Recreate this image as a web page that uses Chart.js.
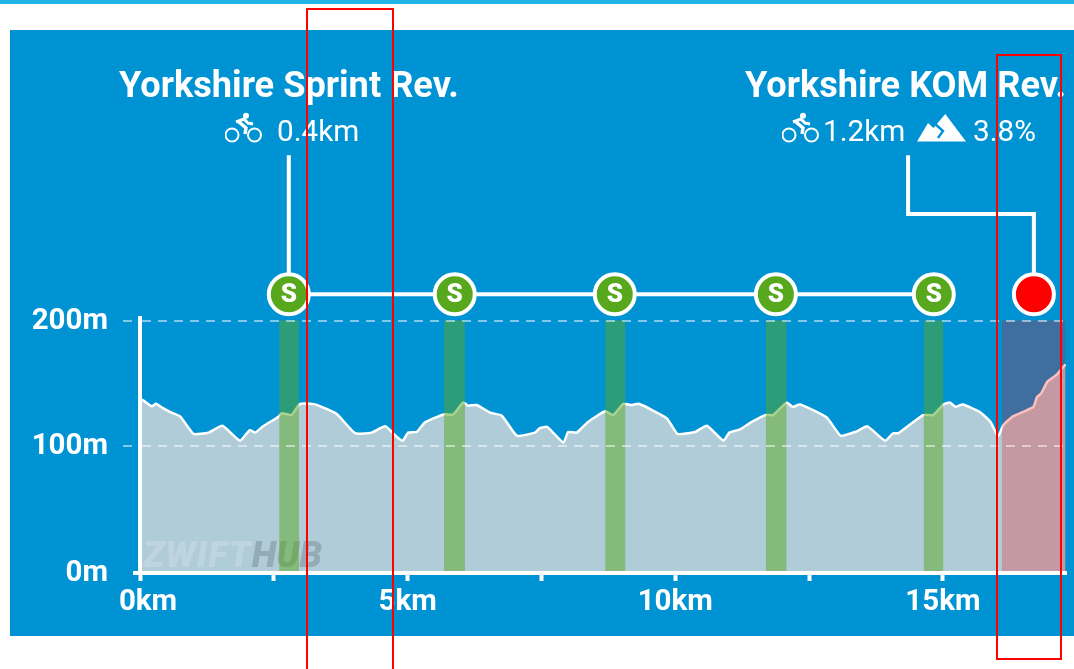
<!DOCTYPE html>
<html>
<head>
<meta charset="utf-8">
<title>Yorkshire Reverse profile</title>
<script src="https://cdn.jsdelivr.net/npm/chart.js@4"></script>
<style>
  html, body { margin: 0; padding: 0; background: #fff; overflow: hidden; }
  #page { position: relative; width: 1074px; height: 669px; font-family: Roboto, sans-serif; color: #fff; overflow: hidden; }
  #topBar { position: absolute; left: 0; top: 0; width: 1074px; height: 4px; background: #1fb4e6; }
  #panel { position: absolute; left: 10px; top: 30px; width: 1064px; height: 606px; background: #0093d3; }
  #profile { position: absolute; left: 0; top: 0; }
  .label { position: absolute; white-space: nowrap; line-height: 1; }
  .title { font-size: 36.2px; font-weight: 700; }
  .sub { font-size: 29.7px; font-weight: 400; }
  .icon { position: absolute; }
  .mark { position: absolute; box-sizing: border-box; border: 2px solid #f00; }
</style>
</head>
<body>
<div id="page">
  <div id="topBar"></div>
  <div id="panel"></div>
  <canvas id="profile" width="1074" height="669"></canvas>

  <div class="label title" style="left:119px;top:67px">Yorkshire Sprint Rev.</div>
  <div class="label sub" style="left:277px;top:116px">0.4km</div>
  <div class="label title" style="left:745px;top:67px">Yorkshire KOM Rev.</div>
  <div class="label sub" style="left:823px;top:116px">1.2km</div>
  <div class="label sub" style="left:973px;top:116px">3.8%</div>

  <svg class="icon" style="left:225px;top:111px" width="37" height="32" viewBox="0 0 37 32">
    <use href="#bike"/>
  </svg>
  <svg class="icon" style="left:782px;top:111px" width="37" height="32" viewBox="0 0 37 32">
    <g id="bike" fill="none" stroke="#fff" stroke-width="2">
      <circle cx="7" cy="24" r="6.5"/>
      <circle cx="29.5" cy="24" r="6.5"/>
      <path d="M11 11 L19 8 L23 12 L28 13" stroke-width="3"/>
      <path d="M14 11 L21 17 L20 23" stroke-width="3.4"/>
      <circle cx="21" cy="4.7" r="3" fill="#fff" stroke="none"/>
    </g>
  </svg>
  <svg class="icon" style="left:917px;top:113px" width="50" height="30" viewBox="0 0 50 30">
    <path fill="#fff" d="M0 28.5 L11 10 L16.5 15 L28.3 1 L49 28.5 Z"/>
    <path fill="none" stroke="#0093d3" stroke-width="2.4" d="M17 10 L26 18 L21 25"/>
  </svg>

  <div class="mark" style="left:306px;top:8px;width:88px;height:680px"></div>
  <div class="mark" style="left:996px;top:54px;width:66px;height:606px"></div>
</div>

<script>
// elevation profile
const distanceKm = [0, 0.05, 0.22, 0.30, 0.43, 0.56, 0.75, 1.00, 1.28, 1.54, 1.87, 2.05, 2.15, 2.30, 2.58, 2.65, 2.83, 2.99, 3.27, 3.67, 4.02, 4.33, 4.58, 4.80, 4.91, 5.01, 5.17, 5.32, 5.67, 5.85, 6.04, 6.13, 6.29, 6.54, 6.76, 7.04, 7.38, 7.47, 7.61, 7.91, 8.00, 8.16, 8.37, 8.69, 8.84, 9.03, 9.18, 9.32, 9.84, 10.04, 10.37, 10.59, 10.90, 11.01, 11.21, 11.43, 11.68, 11.83, 12.08, 12.20, 12.33, 12.83, 13.09, 13.39, 13.59, 13.92, 14.07, 14.17, 14.63, 14.82, 15.01, 15.13, 15.24, 15.37, 15.69, 15.89, 16.03, 16.13, 16.31, 16.69, 16.76, 16.84, 16.95, 17.12, 17.29];
const elevationM = [136, 136.5, 131.5, 133.5, 130, 127, 123.5, 109.5, 110.5, 116, 104, 112.5, 110.5, 115.5, 123, 126, 124.5, 133.5, 133, 125.5, 110, 110.5, 115.5, 107, 104, 110.5, 111, 118.5, 125, 125, 134.5, 132, 132.5, 126.5, 124, 108, 110.5, 114, 115, 102.5, 111, 110.5, 119, 127.5, 124.5, 133.5, 132.5, 133.5, 122, 109.5, 111, 116, 104, 110.5, 113, 119, 124.5, 124.5, 134.5, 131, 133, 122.5, 108, 111.5, 115.5, 104, 110, 110, 124.5, 124.5, 133, 134.5, 131, 133, 127, 119, 107.5, 116.5, 123.5, 131, 139, 142, 151, 156.5, 165];

const sprintStartKm = [2.60, 5.68, 8.69, 11.69, 14.64];
const sprintEndKm = [2.97, 6.07, 9.07, 12.08, 15.01];
const sprintMarkerKm = [2.78, 5.88, 8.87, 11.88, 14.83];
const komStartKm = 16.10;
const komEndKm = 17.29;
const komMarkerKm = 16.70;
const markerHeightM = 221;
const bandTopM = 200;

const sprintLeaderKm = [2.78, 2.78];
const sprintLeaderM = [332, 221];
const komLeaderKm = [14.35, 14.35, 16.70, 16.70];
const komLeaderM = [332, 285, 285, 221];

const xTickValues = [0, 2.5, 5, 7.5, 10, 12.5, 15];
const xTickLabels = { 0: "0km", 5: "5km", 10: "10km", 15: "15km" };
const yTickValues = [0, 100, 200];

const toPoints = (xs, ys) => xs.map((x, i) => ({ x: x, y: ys[i] }));

function bandDataset(from, to, color) {
  return {
    type: "line",
    data: [{ x: from, y: bandTopM }, { x: to, y: bandTopM }],
    borderWidth: 0,
    pointRadius: 0,
    fill: "origin",
    backgroundColor: color
  };
}

function leaderDataset(xs, ys) {
  return {
    type: "line",
    data: toPoints(xs, ys),
    borderColor: "#fff",
    borderWidth: 4,
    pointRadius: 0,
    borderCapStyle: "butt",
    borderJoinStyle: "miter",
    clip: false
  };
}

// drawn last-to-first, so the elevation area has to stay at the end
const datasets = [
  {
    type: "line",
    data: sprintMarkerKm.map(x => ({ x: x, y: markerHeightM })),
    borderColor: "#fff",
    borderWidth: 4,
    pointRadius: 20,
    pointBorderWidth: 4,
    pointBorderColor: "#fff",
    pointBackgroundColor: "#57a81c",
    clip: false,
    markerText: "S"
  },
  {
    type: "line",
    data: [{ x: komMarkerKm, y: markerHeightM }],
    showLine: false,
    pointRadius: 20,
    pointBorderWidth: 4,
    pointBorderColor: "#fff",
    pointBackgroundColor: "#ff0000",
    clip: false
  },
  leaderDataset(sprintLeaderKm, sprintLeaderM),
  leaderDataset(komLeaderKm, komLeaderM),
  bandDataset(komStartKm, komEndKm, "rgba(255, 0, 0, 0.25)")
];
sprintStartKm.forEach((start, i) => {
  datasets.push(bandDataset(start, sprintEndKm[i], "rgba(87, 167, 29, 0.5)"));
});
datasets.push({
  type: "line",
  data: toPoints(distanceKm, elevationM),
  borderColor: "#fff",
  borderWidth: 2.5,
  backgroundColor: "#b0ccd8",
  fill: "origin",
  pointRadius: 0,
  tension: 0.15,
  watermark: true
});

const profileExtras = {
  id: "profileExtras",
  // nudge a few axis labels to where the original has them
  beforeDraw(chart) {
    const xItem = chart.scales.x.getLabelItems().find(it => it.label === "0km");
    if (xItem && !xItem.moved) {
      xItem.options.translation[0] += 8;
      xItem.moved = true;
    }
    chart.scales.y.getLabelItems().forEach(it => {
      if (it.moved) return;
      it.options.translation[1] += it.label === "0m" ? 2.5 : 1;
      it.moved = true;
    });
  },
  afterDatasetDraw(chart, args) {
    if (!args.meta._dataset.watermark) return;
    const ctx = chart.ctx;
    const x = chart.scales.x.getPixelForValue(0) + 3;
    const y = chart.scales.y.getPixelForValue(0) - 4;
    ctx.save();
    ctx.font = "italic 900 36px Roboto";
    ctx.textBaseline = "alphabetic";
    ctx.letterSpacing = "1px";
    ctx.fillStyle = "rgba(255, 255, 255, 0.18)";
    ctx.fillText("ZWIFT", x, y);
    const w = ctx.measureText("ZWIFT").width;
    ctx.letterSpacing = "0px";
    ctx.fillStyle = "rgba(50, 50, 60, 0.22)";
    ctx.fillText("HUB", x + w, y);
    ctx.restore();
  },
  afterDatasetsDraw(chart) {
    const ctx = chart.ctx;
    chart.data.datasets.forEach((ds, i) => {
      if (!ds.markerText) return;
      chart.getDatasetMeta(i).data.forEach(pt => {
        ctx.save();
        ctx.font = "900 26px Roboto";
        ctx.fillStyle = "#fff";
        ctx.textAlign = "center";
        ctx.textBaseline = "middle";
        ctx.fillText(ds.markerText, pt.x, pt.y + 1);
        ctx.restore();
      });
    });
  },
  // short solid tick for 0m, the dashed ones start further out
  afterDraw(chart) {
    const ctx = chart.ctx;
    const x0 = chart.scales.x.getPixelForValue(0);
    ctx.save();
    ctx.fillStyle = "#fff";
    ctx.fillRect(x0 - 7, chart.chartArea.bottom - 2, 7, 4);
    ctx.restore();
  }
};

new Chart(document.getElementById("profile").getContext("2d"), {
  type: "line",
  data: { datasets: datasets },
  plugins: [profileExtras],
  options: {
    responsive: false,
    animation: false,
    events: [],
    layout: { autoPadding: false, padding: { left: 0, top: 318, right: 8, bottom: 0 } },
    plugins: { legend: { display: false }, tooltip: { enabled: false } },
    scales: {
      x: {
        type: "linear",
        min: 0,
        max: 17.3,
        afterFit(scale) {
          scale.height = 96;
          scale.paddingLeft = 0;
          scale.paddingRight = 0;
        },
        afterBuildTicks(scale) { scale.ticks = xTickValues.map(v => ({ value: v })); },
        border: { color: "#fff", width: 4, z: 1 },
        grid: { drawOnChartArea: false, tickLength: 8, tickWidth: 4, tickColor: "#fff" },
        ticks: {
          color: "#fff",
          padding: 4,
          maxRotation: 0,
          autoSkip: false,
          font: { family: "Roboto", size: 29.5, weight: "700" },
          callback: v => xTickLabels[v] || ""
        }
      },
      y: {
        min: -1.6,
        max: 202,
        afterFit(scale) { scale.width = 140; },
        afterBuildTicks(scale) { scale.ticks = yTickValues.map(v => ({ value: v })); },
        border: { color: "#fff", width: 4, dash: [9, 7], z: 1 },
        grid: {
          z: 1,
          lineWidth: 2,
          tickLength: 17,
          tickWidth: 2,
          tickBorderDash: [9, 7],
          color: c => c.tick.value === 0 ? "transparent" : "rgba(255, 255, 255, 0.5)",
          tickColor: c => c.tick.value === 0 ? "transparent" : "rgba(255, 255, 255, 0.5)"
        },
        ticks: {
          color: "#fff",
          padding: 15,
          autoSkip: false,
          font: { family: "Roboto", size: 29.5, weight: "700" },
          callback: v => v + "m"
        }
      }
    }
  }
});
</script>
</body>
</html>
